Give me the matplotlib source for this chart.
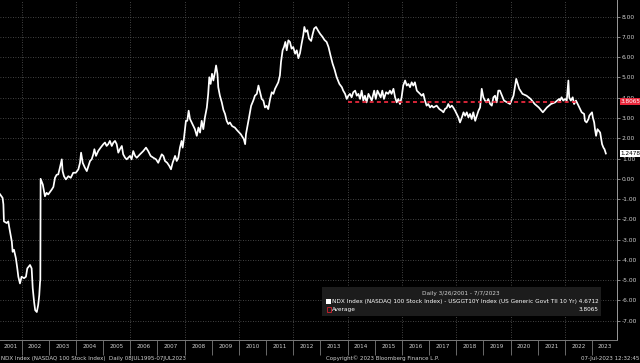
import matplotlib
matplotlib.use('Agg')
import matplotlib.pyplot as plt
import matplotlib.transforms as mtransforms
from matplotlib.patches import Rectangle
from matplotlib.font_manager import fontManager

# ---------------- data ----------------
dates = [
    2001.205, 2001.30, 2001.33, 2001.35, 2001.45, 2001.51, 2001.55, 2001.64, 2001.67, 2001.72,
    2001.79, 2001.84, 2001.88, 2001.94, 2002.00, 2002.09, 2002.16, 2002.21, 2002.31, 2002.37,
    2002.41, 2002.46, 2002.50, 2002.56, 2002.61, 2002.65, 2002.68, 2002.69, 2002.70, 2002.78,
    2002.86, 2002.92, 2002.98, 2003.11, 2003.17, 2003.23, 2003.29, 2003.35, 2003.41, 2003.48,
    2003.51, 2003.56, 2003.63, 2003.72, 2003.81, 2003.90, 2004.00, 2004.09, 2004.15, 2004.19,
    2004.25, 2004.33, 2004.40, 2004.46, 2004.52, 2004.58, 2004.64, 2004.68, 2004.74, 2004.82,
    2004.91, 2005.01, 2005.07, 2005.13, 2005.19, 2005.25, 2005.32, 2005.38, 2005.44, 2005.50,
    2005.56, 2005.62, 2005.69, 2005.74, 2005.81, 2005.87, 2005.99, 2006.05, 2006.11, 2006.18,
    2006.24, 2006.36, 2006.48, 2006.58, 2006.66, 2006.75, 2006.85, 2006.95, 2007.03, 2007.16,
    2007.22, 2007.28, 2007.36, 2007.44, 2007.50, 2007.56, 2007.65, 2007.71, 2007.77, 2007.83,
    2007.89, 2007.93, 2007.98, 2008.02, 2008.05, 2008.10, 2008.15, 2008.20, 2008.26, 2008.32,
    2008.38, 2008.45, 2008.51, 2008.57, 2008.63, 2008.69, 2008.75, 2008.82, 2008.87, 2008.91,
    2008.96, 2009.01, 2009.06, 2009.12, 2009.16, 2009.21, 2009.24, 2009.30, 2009.37, 2009.43,
    2009.49, 2009.55, 2009.61, 2009.67, 2009.75, 2009.85, 2009.93, 2010.07, 2010.18, 2010.23,
    2010.26, 2010.33, 2010.37, 2010.45, 2010.53, 2010.59, 2010.66, 2010.72, 2010.78, 2010.84,
    2010.90, 2010.96, 2011.02, 2011.08, 2011.15, 2011.21, 2011.27, 2011.33, 2011.39, 2011.45,
    2011.51, 2011.55, 2011.61, 2011.66, 2011.71, 2011.76, 2011.82, 2011.88, 2011.94, 2012.00,
    2012.07, 2012.13, 2012.19, 2012.25, 2012.31, 2012.37, 2012.41, 2012.46, 2012.52, 2012.58,
    2012.66, 2012.71, 2012.77, 2012.84, 2012.92, 2012.99, 2013.08, 2013.15, 2013.23, 2013.30,
    2013.37, 2013.45, 2013.52, 2013.60, 2013.70, 2013.79, 2013.84, 2013.91, 2013.97, 2014.03,
    2014.09, 2014.15, 2014.21, 2014.28, 2014.34, 2014.40, 2014.46, 2014.52, 2014.58, 2014.64,
    2014.70, 2014.77, 2014.83, 2014.89, 2014.98, 2015.04, 2015.10, 2015.16, 2015.22, 2015.28,
    2015.34, 2015.42, 2015.50, 2015.56, 2015.62, 2015.69, 2015.75, 2015.81, 2015.87, 2015.93,
    2015.99, 2016.05, 2016.12, 2016.18, 2016.24, 2016.30, 2016.36, 2016.42, 2016.48, 2016.55,
    2016.61, 2016.67, 2016.73, 2016.79, 2016.85, 2016.91, 2016.97, 2017.04, 2017.10, 2017.16,
    2017.28, 2017.38, 2017.47, 2017.53, 2017.59, 2017.65, 2017.71, 2017.77, 2017.84, 2017.89,
    2017.96, 2018.02, 2018.08, 2018.14, 2018.21, 2018.27, 2018.33, 2018.39, 2018.45, 2018.51,
    2018.57, 2018.63, 2018.70, 2018.76, 2018.82, 2018.88, 2018.94, 2019.00, 2019.06, 2019.12,
    2019.18, 2019.25, 2019.31, 2019.37, 2019.43, 2019.49, 2019.55, 2019.61, 2019.76, 2019.98,
    2020.11, 2020.21, 2020.32, 2020.44, 2020.59, 2020.74, 2020.89, 2021.04, 2021.19, 2021.34,
    2021.49, 2021.64, 2021.79, 2021.82, 2021.88, 2021.94, 2022.01, 2022.07, 2022.13, 2022.16,
    2022.22, 2022.29, 2022.34, 2022.41, 2022.50, 2022.56, 2022.62, 2022.71, 2022.74, 2022.80,
    2022.87, 2022.90, 2022.95, 2023.00, 2023.03, 2023.08, 2023.11, 2023.15, 2023.20, 2023.25,
    2023.30, 2023.33, 2023.37, 2023.42, 2023.46, 2023.51,
]
values = [
    -0.76, -0.94, -1.26, -2.10, -2.18, -2.10, -2.43, -3.10, -3.60, -3.50,
    -3.92, -4.40, -4.83, -5.16, -4.83, -4.90, -4.83, -4.42, -4.25, -4.42,
    -5.40, -6.07, -6.48, -6.57, -6.23, -5.74, -5.08, -5.00, 0.00, -0.28,
    -0.86, -0.69, -0.77, -0.53, -0.40, 0.05, 0.20, 0.22, 0.55, 0.96,
    0.38, 0.13, -0.03, 0.13, 0.05, 0.30, 0.30, 0.47, 0.79, 1.29,
    0.79, 0.55, 0.38, 0.63, 0.88, 0.96, 1.21, 1.46, 1.13, 1.37,
    1.54, 1.71, 1.79, 1.62, 1.71, 1.87, 1.62, 1.79, 1.87, 1.71,
    1.29, 1.46, 1.62, 1.21, 1.04, 0.96, 1.13, 0.96, 1.37, 1.13,
    1.04, 1.21, 1.37, 1.54, 1.37, 1.13, 1.04, 0.96, 0.79, 1.21,
    1.13, 0.88, 0.79, 0.63, 0.47, 0.79, 1.13, 0.88, 1.04, 1.54,
    1.87, 1.54, 2.03, 2.53, 2.86, 2.86, 3.36, 2.95, 2.78, 2.62,
    2.45, 2.12, 2.53, 2.28, 2.86, 2.45, 3.03, 3.52, 4.19, 5.01,
    4.68, 5.18, 4.85, 5.26, 5.59, 5.18, 4.52, 4.10, 3.77, 3.40,
    3.20, 2.86, 2.70, 2.78, 2.60, 2.53, 2.40, 2.20, 1.96, 1.71,
    2.20, 2.70, 3.00, 3.60, 3.86, 4.10, 4.19, 4.60, 4.27, 3.94,
    3.86, 3.52, 3.60, 3.44, 3.94, 4.27, 4.19, 4.44, 4.60, 4.76,
    5.10, 5.76, 6.34, 6.50, 6.75, 6.34, 6.83, 6.75, 6.42, 6.50,
    6.17, 6.34, 5.95, 6.20, 6.67, 7.08, 7.49, 7.25, 7.33, 6.92,
    6.80, 7.10, 7.41, 7.49, 7.30, 7.15, 7.00, 6.85, 6.75, 6.50,
    6.10, 5.68, 5.40, 5.01, 4.68, 4.52, 4.35, 4.19, 3.94, 4.10,
    4.19, 4.02, 4.27, 4.35, 4.10, 4.19, 3.94, 4.35, 3.86, 4.10,
    3.77, 4.19, 4.02, 3.86, 4.35, 3.94, 4.35, 4.19, 4.02, 4.35,
    3.94, 4.27, 4.19, 4.35, 4.19, 4.44, 4.02, 3.77, 3.94, 3.69,
    4.02, 4.60, 4.85, 4.60, 4.68, 4.52, 4.76, 4.60, 4.76, 4.35,
    4.27, 4.19, 4.10, 4.19, 3.86, 3.61, 3.69, 3.52, 3.61, 3.52,
    3.61, 3.44, 3.36, 3.28, 3.45, 3.50, 3.69, 3.52, 3.61, 3.52,
    3.36, 3.20, 3.03, 2.78, 3.03, 3.28, 3.11, 3.28, 3.03, 3.20,
    2.95, 3.28, 2.86, 3.11, 3.36, 3.52, 4.44, 4.02, 3.86, 3.77,
    3.94, 3.69, 3.61, 4.02, 4.10, 3.77, 4.35, 4.35, 3.86, 3.69,
    4.10, 4.93, 4.44, 4.19, 4.10, 3.94, 3.69, 3.52, 3.28, 3.52,
    3.69, 3.77, 3.94, 3.86, 4.02, 3.86, 3.94, 3.86, 4.85, 4.02,
    3.86, 4.02, 3.69, 3.86, 3.61, 3.44, 3.28, 3.20, 2.86, 2.78,
    2.95, 3.11, 3.20, 3.28, 3.03, 2.78, 2.45, 2.12, 2.45, 2.37,
    2.28, 2.03, 1.71, 1.54, 1.46, 1.2478,
]
average = 3.8065
avg_span = [2014.0, 2022.45]
legend_value = 4.6712
last_value = 1.2478
year_labels = list(range(2001, 2024))
y_ticks = list(range(-7, 9))
x_start, x_end = 2001.205, 2023.92

# ---------------- fonts ----------------
names = {f.name for f in fontManager.ttflist}
if 'Liberation Sans Narrow' in names:
    FAM = ['Liberation Sans Narrow', 'DejaVu Sans']
    K = 1.0
else:
    FAM = ['DejaVu Sans']
    K = 0.72

W, H = 640, 363
fig = plt.figure(figsize=(W / 100, H / 100), dpi=100, facecolor='black')
ax = fig.add_axes([0, 1 - 340 / H, 617 / W, 340 / H], facecolor='black')

GRID = '#5a5a5a'
TXT = '#d2d2d2'

# grid
for yv in y_ticks:
    ax.axhline(yv, color=GRID, lw=0.6, ls=(0, (1, 2)), zorder=1)
for yr in range(2002, 2024, 2):
    ax.axvline(yr, color=GRID, lw=0.6, ls=(0, (1, 2)), zorder=1)

# series
ax.plot(dates, values, color='white', lw=1.25, zorder=3)
ax.plot(avg_span, [average, average], color='#e8283c', lw=1.3, ls=(0, (2.2, 1.8)), zorder=4)

ax.set_xlim(x_start, x_end)
ax.set_ylim(-7.95, 8.82)

# y axis on the right
ax.yaxis.tick_right()
ax.set_yticks(y_ticks)
ax.set_yticklabels([f'{v:.2f}' for v in y_ticks])
ax.tick_params(axis='y', which='major', length=2, width=0.6, color='#9a9a9a',
               pad=1.5, labelcolor=TXT, labelsize=6.0 * K)
for lab in ax.get_yticklabels():
    lab.set_family(FAM)

# x axis: separators at year starts, labels centred in each year
ax.set_xticks(list(range(2002, 2024)))
ax.set_xticklabels([])
ax.tick_params(axis='x', which='major', length=11, width=0.6, color='#7a7a7a', direction='out')
centers = []
for y in year_labels:
    lo = max(y, x_start)
    hi = min(y + 1, x_end)
    centers.append((lo + hi) / 2)
ax.set_xticks(centers, minor=True)
ax.set_xticklabels([str(y) for y in year_labels], minor=True)
ax.tick_params(axis='x', which='minor', length=0, pad=3.2, labelcolor=TXT, labelsize=5.6 * K)
for lab in ax.get_xticklabels(minor=True):
    lab.set_family(FAM)

for s in ['top', 'left']:
    ax.spines[s].set_visible(False)
ax.spines['right'].set_color('#9a9a9a')
ax.spines['right'].set_linewidth(0.7)
ax.spines['bottom'].set_color('#7a7a7a')
ax.spines['bottom'].set_linewidth(0.7)

# value badges on the right axis
bt = mtransforms.blended_transform_factory(ax.transAxes, ax.transData)
ax.text(1.006, average, f'{average:.4f}', transform=bt, ha='left', va='center', color='white',
        fontsize=5.8 * K, family=FAM, zorder=10, clip_on=False,
        bbox=dict(boxstyle='square,pad=0.18', fc='#e8283c', ec='none'))
ax.text(1.006, last_value, f'{last_value:.4f}', transform=bt, ha='left', va='center',
        color='black', fontsize=5.8 * K, family=FAM, zorder=10, clip_on=False,
        bbox=dict(boxstyle='square,pad=0.18', fc='white', ec='none'))

# legend box
def fx(x):
    return x / W

def fy(y):
    return 1 - y / H

LEG = 5.72 * K
fig.patches.append(Rectangle((fx(322), fy(316)), fx(601) - fx(322), (316 - 287) / H,
                             transform=fig.transFigure, fc='#1c1c1c', ec='none', zorder=5))
fig.text(fx(461), fy(293.5), 'Daily 3/26/2001 - 7/7/2023', ha='center', va='center',
         color=TXT, fontsize=LEG, family=FAM, zorder=6)
fig.patches.append(Rectangle((fx(326), fy(303.5)), 5 / W, 5 / H, transform=fig.transFigure,
                             fc='white', ec='none', zorder=6))
fig.text(fx(331.5), fy(301.2),
         'NDX Index (NASDAQ 100 Stock Index) - USGGT10Y Index (US Generic Govt TII 10 Yr) '
         f'{legend_value:.4f}',
         ha='left', va='center', color='white', fontsize=LEG, family=FAM, zorder=6)
fig.patches.append(Rectangle((fx(326.5), fy(311.5)), 4 / W, 4.5 / H, transform=fig.transFigure,
                             fc='none', ec='#c0202c', lw=0.7, zorder=6))
fig.text(fx(331.5), fy(309.3), 'Average', ha='left', va='center', color='white',
         fontsize=LEG, family=FAM, zorder=6)
fig.text(fx(598), fy(309.3), f'{average:.4f}', ha='right', va='center', color='white',
         fontsize=LEG, family=FAM, zorder=6)

# footer
FT = 5.5 * K
fig.text(fx(1), fy(358.5), 'NDX Index (NASDAQ 100 Stock Index)  Daily 08JUL1995-07JUL2023',
         ha='left', va='center', color=TXT, fontsize=FT, family=FAM)
fig.text(fx(383), fy(358.5), 'Copyright\u00a9 2023 Bloomberg Finance L.P.', ha='center',
         va='center', color=TXT, fontsize=FT, family=FAM)
fig.text(fx(639), fy(358.5), '07-Jul-2023 12:32:45', ha='right', va='center', color=TXT,
         fontsize=FT, family=FAM)

fig.savefig('out.png', dpi=100, facecolor='black')
